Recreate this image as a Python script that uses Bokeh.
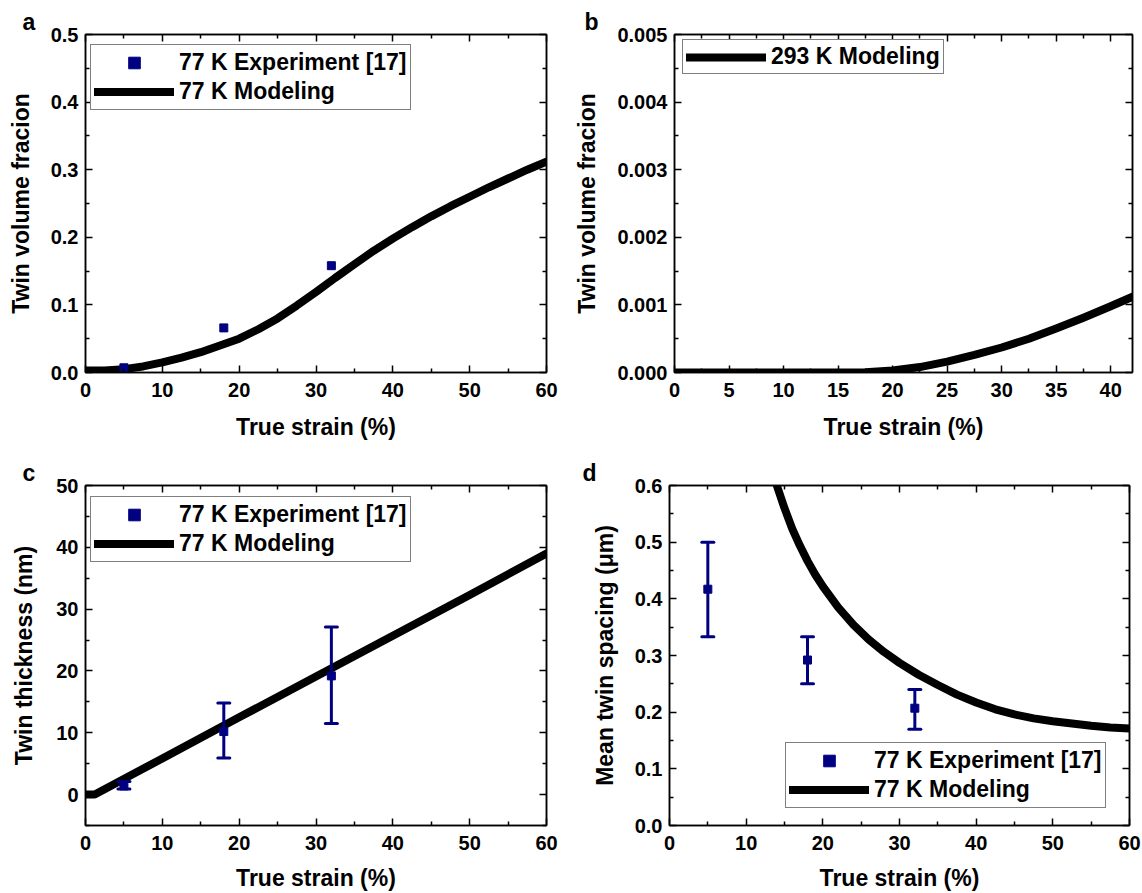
from bokeh.plotting import figure
from bokeh.layouts import column, row
from bokeh.models import (ColumnDataSource, Range1d, LinearAxis, FixedTicker,
                          PrintfTickFormatter, Legend, LegendItem, Whisker, TeeHead)
from bokeh.embed import file_html
from bokeh.resources import INLINE

FONT = "Liberation Sans"
NAVY = "#000080"

# ---------------- data ----------------
strain_exp = [5, 18, 32]

# (a) twin volume fraction, 77 K
frac_exp_77 = [0.007, 0.066, 0.158]
strain_model_a = [0, 2.5, 5, 7.5, 10, 12.5, 15, 17.5, 20, 22.5, 25, 27.5, 30, 32.5, 35,
                  37.5, 40, 42.5, 45, 47.5, 50, 52.5, 55, 57.5, 60]
frac_model_77 = [0.003, 0.003, 0.005, 0.009, 0.015, 0.022, 0.030, 0.040, 0.050, 0.064,
                 0.080, 0.099, 0.119, 0.140, 0.160, 0.180, 0.198, 0.215, 0.231, 0.246,
                 0.260, 0.274, 0.287, 0.300, 0.312]

# (b) twin volume fraction, 293 K
strain_model_b = [0, 5, 10, 15, 17.5, 20, 22.5, 25, 27.5, 30, 32.5, 35, 37.5, 40, 42]
frac_model_293 = [0, 0, 0, 0, 0.000005, 0.00003, 0.00008, 0.00016, 0.00026, 0.00037,
                  0.00050, 0.00065, 0.00081, 0.00098, 0.00112]

# (c) twin thickness (nm)
thick_exp = [1.4, 10.2, 19.2]
thick_lower = [0.9, 5.9, 11.5]
thick_upper = [2.1, 14.8, 27.1]
strain_model_c = [0, 1.2, 10, 20, 30, 40, 50, 60]
thick_model = [0, 0, 5.85, 12.5, 19.1, 25.7, 32.3, 39.0]

# (d) mean twin spacing (um)
spacing_exp = [0.417, 0.292, 0.207]
spacing_lower = [0.333, 0.25, 0.17]
spacing_upper = [0.5, 0.333, 0.24]
strain_model_d = [13.6, 14, 15, 16, 17, 18, 19, 20, 22, 24, 26, 28, 30, 32.5, 35, 37.5,
                  40, 42.5, 45, 47.5, 50, 52.5, 55, 57.5, 60]
spacing_model = [0.62, 0.600, 0.560, 0.524, 0.494, 0.467, 0.443, 0.422, 0.385, 0.354,
                 0.328, 0.306, 0.287, 0.266, 0.248, 0.231, 0.217, 0.205, 0.196, 0.189,
                 0.184, 0.180, 0.176, 0.173, 0.171]

# ticks
x_ticks_60 = [0, 10, 20, 30, 40, 50, 60]
x_minor_60 = [5, 15, 25, 35, 45, 55]
x_ticks_42 = [0, 5, 10, 15, 20, 25, 30, 35, 40]
x_minor_42 = [2.5, 7.5, 12.5, 17.5, 22.5, 27.5, 32.5, 37.5]
y_ticks_a = [0.0, 0.1, 0.2, 0.3, 0.4, 0.5]
y_minor_a = [0.05, 0.15, 0.25, 0.35, 0.45]
y_ticks_b = [0.0, 0.001, 0.002, 0.003, 0.004, 0.005]
y_minor_b = [0.0005, 0.0015, 0.0025, 0.0035, 0.0045]
y_ticks_c = [0, 10, 20, 30, 40, 50]
y_minor_c = [-5, 5, 15, 25, 35, 45]
y_ticks_d = [0.0, 0.1, 0.2, 0.3, 0.4, 0.5, 0.6]
y_minor_d = [0.05, 0.15, 0.25, 0.35, 0.45, 0.55]

X_LABEL = "True strain (%)"


def make_fig(width, height, xr, yr, bl, br, bt, bb, letter, letter_offset):
    p = figure(width=width, height=height, x_range=Range1d(*xr), y_range=Range1d(*yr),
               output_backend="svg", toolbar_location=None,
               min_border_left=bl, min_border_right=br, min_border_top=bt,
               min_border_bottom=bb, x_axis_location=None, y_axis_location=None)
    p.grid.visible = False
    p.outline_line_color = "black"
    p.outline_line_width = 1.5
    p.background_fill_color = "white"
    p.border_fill_color = "white"
    p.title.text = letter
    p.title.align = "left"
    p.title.offset = letter_offset
    p.title.standoff = 0
    p.title.text_font = FONT
    p.title.text_font_size = "23px"
    p.title.text_font_style = "bold"
    p.title.text_color = "black"
    p.title.vertical_align = "bottom"
    return p


def add_axes(p, xt, xm, yt, ym, xfmt, yfmt, ylabel, ylab_standoff, xlab_standoff):
    specs = [("below", xt, xm, xfmt, X_LABEL, xlab_standoff, 10),
             ("above", xt, xm, None, None, 0, 0),
             ("left", yt, ym, yfmt, ylabel, ylab_standoff, 7),
             ("right", yt, ym, None, None, 0, 0)]
    for loc, ticks, minor, fmt, label, stand, lstand in specs:
        ax = LinearAxis(ticker=FixedTicker(ticks=ticks, minor_ticks=minor))
        ax.major_tick_in = 7
        ax.major_tick_out = 0
        ax.minor_tick_in = 4
        ax.minor_tick_out = 0
        ax.axis_line_width = 1.5
        ax.major_tick_line_width = 1.5
        ax.minor_tick_line_width = 1.5
        ax.axis_line_color = "black"
        ax.major_tick_line_color = "black"
        ax.minor_tick_line_color = "black"
        if fmt is not None:
            ax.formatter = PrintfTickFormatter(format=fmt)
            ax.major_label_text_font = FONT
            ax.major_label_text_font_size = "20px"
            ax.major_label_text_font_style = "bold"
            ax.major_label_text_color = "black"
            ax.major_label_standoff = lstand
            ax.axis_label = label
            ax.axis_label_text_font = FONT
            ax.axis_label_text_font_size = "23px"
            ax.axis_label_text_font_style = "bold"
            ax.axis_label_text_color = "black"
            ax.axis_label_standoff = stand
        else:
            # mirror axis: ticks only, labels not painted
            ax.major_label_text_font_size = "1px"
            ax.major_label_text_color = None
            ax.major_label_standoff = 0
        p.add_layout(ax, loc)


def add_legend(p, items, loc, glyph_h):
    lg = Legend(items=items, location=loc)
    lg.label_text_font = FONT
    lg.label_text_font_size = "23px"
    lg.label_text_font_style = "bold"
    lg.label_text_color = "black"
    lg.border_line_color = "black"
    lg.border_line_width = 1.5
    lg.background_fill_color = "white"
    lg.background_fill_alpha = 1
    lg.padding = 3
    lg.spacing = 0
    lg.margin = 0
    lg.glyph_width = 80
    lg.glyph_height = glyph_h
    lg.label_height = glyph_h
    lg.label_standoff = 5
    p.add_layout(lg)


def add_whiskers(p, lower, upper):
    src = ColumnDataSource(dict(x=strain_exp, lower=lower, upper=upper))
    w = Whisker(source=src, base="x", lower="lower", upper="upper", dimension="height",
                line_color=NAVY, line_width=3, level="glyph",
                upper_head=TeeHead(size=12, line_color=NAVY, line_width=3, line_cap="round"),
                lower_head=TeeHead(size=12, line_color=NAVY, line_width=3, line_cap="round"))
    p.add_layout(w)


def model_line(p, x, y):
    return p.line(x, y, line_width=8, color="black", line_cap="round", line_join="round")


# ---------------- panel a ----------------
pa = make_fig(571, 446, (0, 60), (0, 0.5), 85, 25, 34, 72, "a", -63)
add_axes(pa, x_ticks_60, x_minor_60, y_ticks_a, y_minor_a, "%d", "%.1f",
         "Twin volume fracion", 14, 14)
ra_line = model_line(pa, strain_model_a, frac_model_77)
ra_pts = pa.scatter(strain_exp, frac_exp_77, marker="square", size=8, color=NAVY)
add_legend(pa, [LegendItem(label="77 K Experiment [17]", renderers=[ra_pts]),
                LegendItem(label="77 K Modeling", renderers=[ra_line])], (5, 262), 29)

# ---------------- panel b ----------------
pb = make_fig(571, 446, (0, 42), (0, 0.005), 101, 10, 32, 74, "b", -90)
add_axes(pb, x_ticks_42, x_minor_42, y_ticks_b, y_minor_b, "%d", "%.3f",
         "Twin volume fracion", 14, 14)
rb_line = model_line(pb, strain_model_b, frac_model_293)
add_legend(pb, [LegendItem(label="293 K Modeling", renderers=[rb_line])], (8, 298), 26)

# ---------------- panel c ----------------
pc = make_fig(571, 447, (0, 60), (-5, 50), 85, 25, 39, 67, "c", -63)
add_axes(pc, x_ticks_60, x_minor_60, y_ticks_c, y_minor_c, "%d", "%d",
         "Twin thickness (nm)", 16, 12)
rc_line = model_line(pc, strain_model_c, thick_model)
add_whiskers(pc, thick_lower, thick_upper)
rc_pts = pc.scatter(strain_exp, thick_exp, marker="square", size=8, color=NAVY)
add_legend(pc, [LegendItem(label="77 K Experiment [17]", renderers=[rc_pts]),
                LegendItem(label="77 K Modeling", renderers=[rc_line])], (5, 263), 29)

# ---------------- panel d ----------------
pd_ = make_fig(571, 447, (0, 60), (0, 0.6), 98, 13, 39, 68, "d", -87)
add_axes(pd_, x_ticks_60, x_minor_60, y_ticks_d, y_minor_d, "%d", "%.1f",
         "Mean twin spacing (\u03bcm)", 14, 12)
rd_line = model_line(pd_, strain_model_d, spacing_model)
add_whiskers(pd_, spacing_lower, spacing_upper)
rd_pts = pd_.scatter(strain_exp, spacing_exp, marker="square", size=8, color=NAVY)
add_legend(pd_, [LegendItem(label="77 K Experiment [17]", renderers=[rd_pts]),
                 LegendItem(label="77 K Modeling", renderers=[rd_line])], (116, 17), 29)

layout = column(row(pa, pb), row(pc, pd_))
open("out.html", "w").write(file_html(layout, INLINE))
